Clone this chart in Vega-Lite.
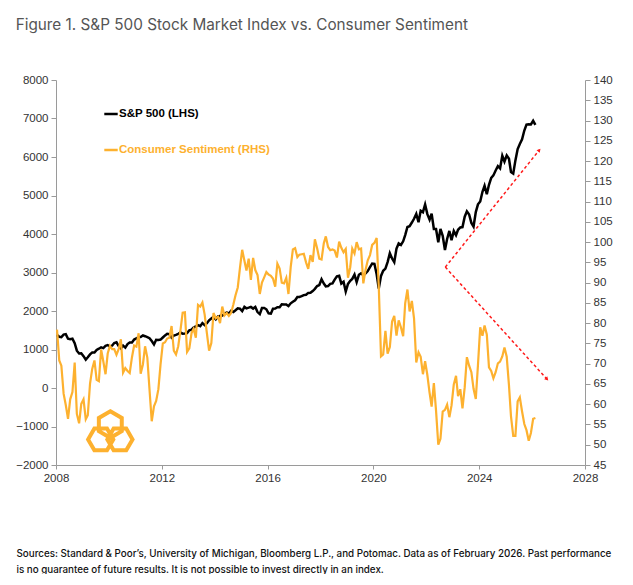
{
  "$schema": "https://vega.github.io/schema/vega-lite/v6.json",
  "width": 529,
  "height": 385,
  "padding": {"left": 15, "top": 17, "right": 0, "bottom": 0},
  "background": "white",
  "title": {
    "text": "Figure 1. S&P 500 Stock Market Index vs. Consumer Sentiment",
    "anchor": "start",
    "frame": "bounds",
    "font": "Inter",
    "fontSize": 15.3,
    "fontWeight": 400,
    "color": "#555555",
    "offset": 41
  },
  "config": {
    "view": {"stroke": null},
    "axis": {
      "grid": false,
      "domainColor": "#9a9a9a",
      "tickColor": "#9a9a9a",
      "tickSize": 5,
      "labelFont": "Liberation Sans",
      "labelFontSize": 11.5,
      "labelColor": "#333333",
      "labelOverlap": false,
      "labelFlush": false,
      "labelBound": false
    }
  },
  "datasets": {
    "monthly": [
      {"d":"2008-01-15","spx":1378,"cs":78.4},{"d":"2008-02-15","spx":1331,"cs":70.8},{"d":"2008-03-15","spx":1323,"cs":69.5},{"d":"2008-04-15","spx":1386,"cs":62.6},{"d":"2008-05-15","spx":1400,"cs":59.8},{"d":"2008-06-15","spx":1280,"cs":56.4},{"d":"2008-07-15","spx":1267,"cs":61.2},{"d":"2008-08-15","spx":1283,"cs":63.0},{"d":"2008-09-15","spx":1165,"cs":70.3},{"d":"2008-10-15","spx":969,"cs":57.6},{"d":"2008-11-15","spx":896,"cs":55.3},{"d":"2008-12-15","spx":903,"cs":60.1},
      {"d":"2009-01-15","spx":826,"cs":61.2},{"d":"2009-02-15","spx":735,"cs":56.3},{"d":"2009-03-15","spx":798,"cs":57.3},{"d":"2009-04-15","spx":873,"cs":65.1},{"d":"2009-05-15","spx":919,"cs":68.7},{"d":"2009-06-15","spx":919,"cs":70.8},{"d":"2009-07-15","spx":987,"cs":66.0},{"d":"2009-08-15","spx":1021,"cs":65.7},{"d":"2009-09-15","spx":1057,"cs":73.5},{"d":"2009-10-15","spx":1036,"cs":70.6},{"d":"2009-11-15","spx":1096,"cs":67.4},{"d":"2009-12-15","spx":1115,"cs":72.5},
      {"d":"2010-01-15","spx":1074,"cs":74.4},{"d":"2010-02-15","spx":1104,"cs":73.6},{"d":"2010-03-15","spx":1169,"cs":73.6},{"d":"2010-04-15","spx":1187,"cs":72.2},{"d":"2010-05-15","spx":1089,"cs":73.6},{"d":"2010-06-15","spx":1031,"cs":76.0},{"d":"2010-07-15","spx":1102,"cs":67.8},{"d":"2010-08-15","spx":1049,"cs":68.9},{"d":"2010-09-15","spx":1141,"cs":68.2},{"d":"2010-10-15","spx":1183,"cs":67.7},{"d":"2010-11-15","spx":1181,"cs":71.6},{"d":"2010-12-15","spx":1258,"cs":74.5},
      {"d":"2011-01-15","spx":1286,"cs":74.2},{"d":"2011-02-15","spx":1327,"cs":77.5},{"d":"2011-03-15","spx":1326,"cs":67.5},{"d":"2011-04-15","spx":1364,"cs":69.8},{"d":"2011-05-15","spx":1345,"cs":74.3},{"d":"2011-06-15","spx":1321,"cs":71.5},{"d":"2011-07-15","spx":1292,"cs":63.7},{"d":"2011-08-15","spx":1219,"cs":55.8},{"d":"2011-09-15","spx":1131,"cs":59.5},{"d":"2011-10-15","spx":1253,"cs":60.8},{"d":"2011-11-15","spx":1247,"cs":63.7},{"d":"2011-12-15","spx":1258,"cs":69.9},
      {"d":"2012-01-15","spx":1312,"cs":75.0},{"d":"2012-02-15","spx":1366,"cs":75.3},{"d":"2012-03-15","spx":1408,"cs":76.2},{"d":"2012-04-15","spx":1398,"cs":76.4},{"d":"2012-05-15","spx":1310,"cs":79.3},{"d":"2012-06-15","spx":1362,"cs":73.2},{"d":"2012-07-15","spx":1379,"cs":72.3},{"d":"2012-08-15","spx":1407,"cs":74.3},{"d":"2012-09-15","spx":1441,"cs":78.3},{"d":"2012-10-15","spx":1412,"cs":82.6},{"d":"2012-11-15","spx":1416,"cs":82.7},{"d":"2012-12-15","spx":1426,"cs":72.9},
      {"d":"2013-01-15","spx":1498,"cs":73.8},{"d":"2013-02-15","spx":1515,"cs":77.6},{"d":"2013-03-15","spx":1569,"cs":78.6},{"d":"2013-04-15","spx":1598,"cs":76.4},{"d":"2013-05-15","spx":1631,"cs":84.5},{"d":"2013-06-15","spx":1606,"cs":84.1},{"d":"2013-07-15","spx":1686,"cs":85.1},{"d":"2013-08-15","spx":1633,"cs":82.1},{"d":"2013-09-15","spx":1682,"cs":77.5},{"d":"2013-10-15","spx":1757,"cs":73.2},{"d":"2013-11-15","spx":1806,"cs":75.1},{"d":"2013-12-15","spx":1848,"cs":82.5},
      {"d":"2014-01-15","spx":1783,"cs":81.2},{"d":"2014-02-15","spx":1859,"cs":81.6},{"d":"2014-03-15","spx":1872,"cs":80.0},{"d":"2014-04-15","spx":1884,"cs":84.1},{"d":"2014-05-15","spx":1924,"cs":81.9},{"d":"2014-06-15","spx":1960,"cs":82.5},{"d":"2014-07-15","spx":1931,"cs":81.8},{"d":"2014-08-15","spx":2003,"cs":82.5},{"d":"2014-09-15","spx":1972,"cs":84.6},{"d":"2014-10-15","spx":2018,"cs":86.9},{"d":"2014-11-15","spx":2068,"cs":88.8},{"d":"2014-12-15","spx":2059,"cs":93.6},
      {"d":"2015-01-15","spx":1995,"cs":98.1},{"d":"2015-02-15","spx":2105,"cs":95.4},{"d":"2015-03-15","spx":2068,"cs":93.0},{"d":"2015-04-15","spx":2086,"cs":95.9},{"d":"2015-05-15","spx":2107,"cs":90.7},{"d":"2015-06-15","spx":2063,"cs":96.1},{"d":"2015-07-15","spx":2104,"cs":93.1},{"d":"2015-08-15","spx":1972,"cs":91.9},{"d":"2015-09-15","spx":1920,"cs":87.2},{"d":"2015-10-15","spx":2079,"cs":90.0},{"d":"2015-11-15","spx":2080,"cs":91.3},{"d":"2015-12-15","spx":2044,"cs":92.6},
      {"d":"2016-01-15","spx":1940,"cs":92.0},{"d":"2016-02-15","spx":1932,"cs":91.7},{"d":"2016-03-15","spx":2060,"cs":91.0},{"d":"2016-04-15","spx":2065,"cs":89.0},{"d":"2016-05-15","spx":2097,"cs":94.7},{"d":"2016-06-15","spx":2099,"cs":93.5},{"d":"2016-07-15","spx":2174,"cs":90.0},{"d":"2016-08-15","spx":2171,"cs":89.8},{"d":"2016-09-15","spx":2168,"cs":91.2},{"d":"2016-10-15","spx":2126,"cs":87.2},{"d":"2016-11-15","spx":2199,"cs":93.8},{"d":"2016-12-15","spx":2239,"cs":98.2},
      {"d":"2017-01-15","spx":2279,"cs":98.5},{"d":"2017-02-15","spx":2364,"cs":96.3},{"d":"2017-03-15","spx":2363,"cs":96.9},{"d":"2017-04-15","spx":2384,"cs":97.0},{"d":"2017-05-15","spx":2412,"cs":97.1},{"d":"2017-06-15","spx":2423,"cs":95.0},{"d":"2017-07-15","spx":2470,"cs":93.4},{"d":"2017-08-15","spx":2472,"cs":96.8},{"d":"2017-09-15","spx":2519,"cs":95.1},{"d":"2017-10-15","spx":2575,"cs":100.7},{"d":"2017-11-15","spx":2648,"cs":98.5},{"d":"2017-12-15","spx":2674,"cs":95.9},
      {"d":"2018-01-15","spx":2824,"cs":95.7},{"d":"2018-02-15","spx":2714,"cs":99.7},{"d":"2018-03-15","spx":2641,"cs":101.4},{"d":"2018-04-15","spx":2648,"cs":98.8},{"d":"2018-05-15","spx":2705,"cs":98.0},{"d":"2018-06-15","spx":2718,"cs":98.2},{"d":"2018-07-15","spx":2816,"cs":97.9},{"d":"2018-08-15","spx":2902,"cs":96.2},{"d":"2018-09-15","spx":2914,"cs":100.1},{"d":"2018-10-15","spx":2712,"cs":98.6},{"d":"2018-11-15","spx":2760,"cs":97.5},{"d":"2018-12-15","spx":2507,"cs":98.3},
      {"d":"2019-01-15","spx":2704,"cs":91.2},{"d":"2019-02-15","spx":2784,"cs":93.8},{"d":"2019-03-15","spx":2834,"cs":98.4},{"d":"2019-04-15","spx":2946,"cs":97.2},{"d":"2019-05-15","spx":2752,"cs":100.0},{"d":"2019-06-15","spx":2942,"cs":98.2},{"d":"2019-07-15","spx":2980,"cs":98.4},{"d":"2019-08-15","spx":2926,"cs":89.8},{"d":"2019-09-15","spx":2977,"cs":93.2},{"d":"2019-10-15","spx":3038,"cs":95.5},{"d":"2019-11-15","spx":3141,"cs":96.8},{"d":"2019-12-15","spx":3231,"cs":99.3},
      {"d":"2020-01-15","spx":3226,"cs":99.8},{"d":"2020-02-15","spx":2954,"cs":101.0},{"d":"2020-03-15","spx":2585,"cs":89.1},{"d":"2020-04-15","spx":2912,"cs":71.8},{"d":"2020-05-15","spx":3044,"cs":72.3},{"d":"2020-06-15","spx":3100,"cs":78.1},{"d":"2020-07-15","spx":3271,"cs":72.5},{"d":"2020-08-15","spx":3500,"cs":74.1},{"d":"2020-09-15","spx":3363,"cs":80.4},{"d":"2020-10-15","spx":3270,"cs":81.8},{"d":"2020-11-15","spx":3622,"cs":76.9},{"d":"2020-12-15","spx":3756,"cs":80.7},
      {"d":"2021-01-15","spx":3714,"cs":79.0},{"d":"2021-02-15","spx":3811,"cs":76.8},{"d":"2021-03-15","spx":3973,"cs":84.9},{"d":"2021-04-15","spx":4181,"cs":88.3},{"d":"2021-05-15","spx":4204,"cs":82.9},{"d":"2021-06-15","spx":4298,"cs":85.5},{"d":"2021-07-15","spx":4395,"cs":81.2},{"d":"2021-08-15","spx":4523,"cs":70.3},{"d":"2021-09-15","spx":4308,"cs":72.8},{"d":"2021-10-15","spx":4605,"cs":71.7},{"d":"2021-11-15","spx":4567,"cs":67.4},{"d":"2021-12-15","spx":4766,"cs":70.6},
      {"d":"2022-01-15","spx":4516,"cs":67.2},{"d":"2022-02-15","spx":4374,"cs":62.8},{"d":"2022-03-15","spx":4530,"cs":59.4},{"d":"2022-04-15","spx":4132,"cs":65.2},{"d":"2022-05-15","spx":4132,"cs":58.4},{"d":"2022-06-15","spx":3785,"cs":50.0},{"d":"2022-07-15","spx":4130,"cs":51.5},{"d":"2022-08-15","spx":3955,"cs":58.2},{"d":"2022-09-15","spx":3586,"cs":58.6},{"d":"2022-10-15","spx":3872,"cs":59.9},{"d":"2022-11-15","spx":4080,"cs":56.8},{"d":"2022-12-15","spx":3840,"cs":59.7},
      {"d":"2023-01-15","spx":4077,"cs":64.9},{"d":"2023-02-15","spx":3970,"cs":67.0},{"d":"2023-03-15","spx":4109,"cs":62.0},{"d":"2023-04-15","spx":4169,"cs":63.7},{"d":"2023-05-15","spx":4180,"cs":59.0},{"d":"2023-06-15","spx":4450,"cs":64.2},{"d":"2023-07-15","spx":4589,"cs":71.6},{"d":"2023-08-15","spx":4508,"cs":69.5},{"d":"2023-09-15","spx":4288,"cs":67.9},{"d":"2023-10-15","spx":4194,"cs":63.8},{"d":"2023-11-15","spx":4568,"cs":61.3},{"d":"2023-12-15","spx":4770,"cs":69.7},
      {"d":"2024-01-15","spx":4846,"cs":79.0},{"d":"2024-02-15","spx":5096,"cs":76.9},{"d":"2024-03-15","spx":5254,"cs":79.4},{"d":"2024-04-15","spx":5036,"cs":77.2},{"d":"2024-05-15","spx":5278,"cs":69.1},{"d":"2024-06-15","spx":5460,"cs":68.2},{"d":"2024-07-15","spx":5522,"cs":66.4},{"d":"2024-08-15","spx":5648,"cs":67.9},{"d":"2024-09-15","spx":5762,"cs":70.1},{"d":"2024-10-15","spx":5705,"cs":70.5},{"d":"2024-11-15","spx":6032,"cs":71.8},{"d":"2024-12-15","spx":5882,"cs":74.0},
      {"d":"2025-01-15","spx":6041,"cs":71.7},{"d":"2025-02-15","spx":5955,"cs":64.7},{"d":"2025-03-15","spx":5612,"cs":57.0},{"d":"2025-04-15","spx":5569,"cs":52.2},{"d":"2025-05-15","spx":5912,"cs":52.2},{"d":"2025-06-15","spx":6205,"cs":60.7},{"d":"2025-07-15","spx":6339,"cs":61.7},{"d":"2025-08-15","spx":6460,"cs":58.2},{"d":"2025-09-15","spx":6688,"cs":55.1},{"d":"2025-10-15","spx":6840,"cs":53.6},{"d":"2025-11-15","spx":6849,"cs":51.0},{"d":"2025-12-15","spx":6845,"cs":52.9},
      {"d":"2026-01-15","spx":6940,"cs":56.4},{"d":"2026-02-15","spx":6836,"cs":56.6}
    ],
    "trend": [
      {"d":"2022-09-20","v":3140,"leg":"up"},
      {"d":"2026-04-10","v":6180,"leg":"up"},
      {"d":"2022-09-20","v":3140,"leg":"down"},
      {"d":"2026-07-25","v":230,"leg":"down"}
    ],
    "heads": [
      {"d":"2026-04-10","v":6180,"leg":"up"},
      {"d":"2026-07-25","v":230,"leg":"down"}
    ],
    "logo": [
      {"d":"2010-01-20","v":-1110}
    ]
  },
  "layer": [
    {
      "layer": [
        {
          "data": {"name": "monthly"},
          "mark": {"type": "line", "strokeWidth": 2.5, "interpolate": "linear"},
          "encoding": {
            "x": {
              "field": "d", "type": "temporal", "title": [
                "Sources: Standard & Poor\u2019s, University of Michigan, Bloomberg L.P., and Potomac. Data as of February 2026. Past performance",
                "is no guarantee of future results. It is not possible to invest directly in an index."
              ],
              "scale": {"domain": [{"year": 2008, "month": 1, "date": 1}, {"year": 2028, "month": 1, "date": 1}]},
              "axis": {
                "values": [{"year": 2008}, {"year": 2012}, {"year": 2016}, {"year": 2020}, {"year": 2024}, {"year": 2028}],
                "format": "%Y",
                "tickSize": 4,
                "labelPadding": 3,
                "titleFont": "Inter",
                "titleFontSize": 9.8,
                "titleFontWeight": 500,
                "titleColor": "#111111",
                "titleAlign": "left",
                "titleAnchor": "start",
                "titleBaseline": "top",
                "titleX": -40,
                "titleY": 83,
                "titleLineHeight": 16
              }
            },
            "y": {
              "field": "spx", "type": "quantitative", "title": null,
              "scale": {"domain": [-2000, 8000], "nice": false, "zero": false},
              "axis": {
                "values": [-2000, -1000, 0, 1000, 2000, 3000, 4000, 5000, 6000, 7000, 8000],
                "format": "d", "orient": "left", "labelPadding": 3
              }
            },
            "color": {
              "datum": "S&P 500 (LHS)",
              "scale": {"domain": ["S&P 500 (LHS)", "Consumer Sentiment (RHS)"], "range": ["#000000", "#FDB12F"]},
              "legend": {
                "title": null,
                "orient": "none",
                "legendX": 47,
                "legendY": 26,
                "direction": "vertical",
                "symbolType": "stroke",
                "symbolSize": 180,
                "symbolStrokeWidth": 2.5,
                "labelFont": "Liberation Sans",
                "labelFontSize": 11.5,
                "labelFontWeight": "bold",
                "labelOffset": 0,
                "rowPadding": 22,
                "padding": 0,
                "encode": {
                  "labels": {"update": {"fill": {"signal": "datum.value === 'S&P 500 (LHS)' ? '#000000' : '#FDB12F'"}}}
                }
              }
            }
          }
        },
        {
          "data": {"name": "trend"},
          "mark": {"type": "line", "color": "#FF1A1A", "strokeWidth": 1.5, "strokeDash": [3, 2.5]},
          "encoding": {
            "x": {"field": "d", "type": "temporal"},
            "y": {
              "field": "v", "type": "quantitative", "title": null,
              "axis": {
                "values": [-2000, -1000, 0, 1000, 2000, 3000, 4000, 5000, 6000, 7000, 8000],
                "format": "d", "orient": "left", "labelPadding": 3
              }
            },
            "detail": {"field": "leg"}
          }
        },
        {
          "data": {"name": "heads"},
          "transform": [{"filter": "datum.leg === 'up'"}],
          "mark": {"type": "point", "shape": "triangle-up", "filled": true, "color": "#FF1A1A", "opacity": 1, "size": 18, "angle": 39},
          "encoding": {
            "x": {"field": "d", "type": "temporal"},
            "y": {
              "field": "v", "type": "quantitative", "title": null,
              "axis": {
                "values": [-2000, -1000, 0, 1000, 2000, 3000, 4000, 5000, 6000, 7000, 8000],
                "format": "d", "orient": "left", "labelPadding": 3
              }
            }
          }
        },
        {
          "data": {"name": "heads"},
          "transform": [{"filter": "datum.leg === 'down'"}],
          "mark": {"type": "point", "shape": "triangle-up", "filled": true, "color": "#FF1A1A", "opacity": 1, "size": 18, "angle": 137},
          "encoding": {
            "x": {"field": "d", "type": "temporal"},
            "y": {
              "field": "v", "type": "quantitative", "title": null,
              "axis": {
                "values": [-2000, -1000, 0, 1000, 2000, 3000, 4000, 5000, 6000, 7000, 8000],
                "format": "d", "orient": "left", "labelPadding": 3
              }
            }
          }
        },
        {
          "data": {"name": "logo"},
          "mark": {
            "type": "point",
            "filled": false,
            "color": "#FDB12F",
            "opacity": 1,
            "strokeWidth": 4,
            "size": 2100,
            "shape": "M0,-0.85L0.5,-0.56L0.5,0.02L0,0.31L-0.5,0.02L-0.5,-0.56Z M-0.97,0.38L-0.695,-0.096L-0.145,-0.096L0.13,0.38L-0.145,0.856L-0.695,0.856Z M0.97,0.38L0.695,-0.096L0.145,-0.096L-0.13,0.38L0.145,0.856L0.695,0.856Z"
          },
          "encoding": {
            "x": {"field": "d", "type": "temporal"},
            "y": {
              "field": "v", "type": "quantitative", "title": null,
              "axis": {
                "values": [-2000, -1000, 0, 1000, 2000, 3000, 4000, 5000, 6000, 7000, 8000],
                "format": "d", "orient": "left", "labelPadding": 3
              }
            }
          }
        }
      ]
    },
    {
      "data": {"name": "monthly"},
      "mark": {"type": "line", "strokeWidth": 2.2, "interpolate": "linear"},
      "encoding": {
        "x": {"field": "d", "type": "temporal"},
        "y": {
          "field": "cs", "type": "quantitative", "title": null,
          "scale": {"domain": [45, 140], "nice": false, "zero": false},
          "axis": {
            "values": [45, 50, 55, 60, 65, 70, 75, 80, 85, 90, 95, 100, 105, 110, 115, 120, 125, 130, 135, 140],
            "orient": "right", "labelPadding": 3
          }
        },
        "color": {"datum": "Consumer Sentiment (RHS)"}
      }
    }
  ],
  "resolve": {"scale": {"y": "independent"}}
}
